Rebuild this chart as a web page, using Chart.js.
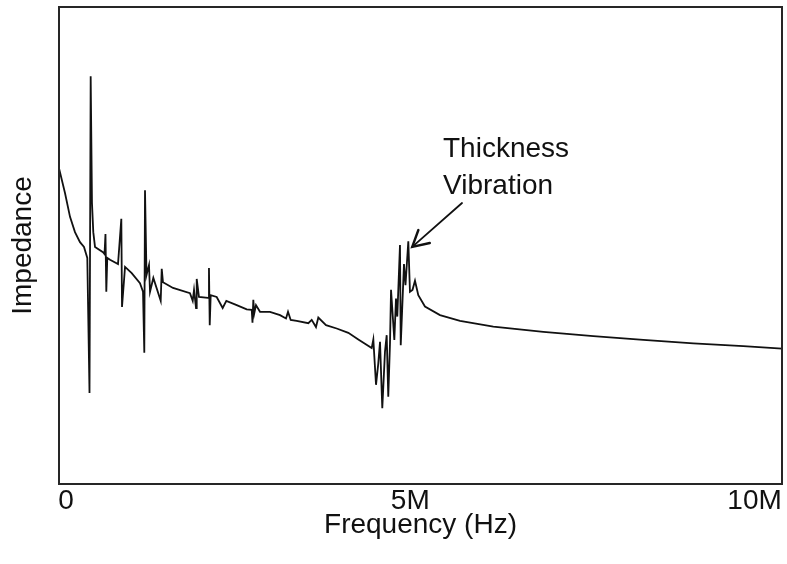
<!DOCTYPE html>
<html>
<head>
<meta charset="utf-8">
<script src="https://cdn.jsdelivr.net/npm/chart.js@4/dist/chart.umd.min.js"></script>
<style>
  html, body { margin: 0; padding: 0; background: #ffffff; }
  #c { display: block; }
</style>
</head>
<body>
<canvas id="c" width="787" height="564"></canvas>
<script>
// Frequency in MHz, impedance in arbitrary units
const freqMHz = [
  0.000, 0.087, 0.160, 0.232, 0.305, 0.363, 0.411, 0.443, 0.460, 0.479,
  0.498, 0.523, 0.639, 0.661, 0.675, 0.687, 0.701, 0.741, 0.857, 0.905,
  0.915, 0.959, 1.056, 1.176, 1.220, 1.239, 1.249, 1.271, 1.307, 1.322,
  1.370, 1.477, 1.492, 1.510, 1.656, 1.902, 1.942, 1.961, 1.990, 2.000,
  2.033, 2.164, 2.178, 2.189, 2.203, 2.290, 2.377, 2.430, 2.581, 2.726,
  2.799, 2.810, 2.822, 2.836, 2.861, 2.919, 3.064, 3.210, 3.297, 3.326,
  3.365, 3.452, 3.621, 3.670, 3.732, 3.766, 3.878, 4.033, 4.202, 4.347,
  4.541, 4.565, 4.604, 4.637, 4.662, 4.695, 4.734, 4.759, 4.782, 4.807,
  4.822, 4.870, 4.894, 4.913, 4.952, 4.963, 5.010, 5.032, 5.073, 5.097,
  5.134, 5.170, 5.218, 5.315, 5.533, 5.824, 6.307, 7.034, 7.760, 8.486,
  9.212, 9.938, 10.500
];
const impedance = [
  66.2, 61.0, 56.0, 52.8, 50.7, 49.7, 47.4, 19.1, 85.5, 58.9,
  52.8, 49.7, 48.6, 48.2, 52.4, 40.3, 47.4, 47.0, 46.1, 55.6,
  37.1, 45.5, 44.2, 42.1, 40.3, 27.5, 61.6, 43.8, 45.9, 40.3,
  43.2, 38.4, 45.1, 42.3, 41.1, 40.0, 38.4, 40.7, 36.9, 43.0,
  39.2, 39.0, 45.3, 33.3, 39.6, 39.2, 36.9, 38.4, 37.5, 36.6,
  36.5, 33.8, 38.6, 35.8, 37.5, 36.1, 36.1, 35.4, 34.7, 36.1,
  34.4, 34.2, 33.7, 34.4, 32.9, 34.9, 33.3, 32.6, 31.7, 30.3,
  28.5, 30.3, 20.8, 25.3, 29.8, 15.9, 27.7, 31.2, 18.3, 29.5,
  40.7, 30.2, 38.9, 35.1, 50.1, 29.1, 46.1, 41.7, 50.9, 40.3,
  40.7, 42.6, 39.6, 37.2, 35.4, 34.2, 33.0, 31.9, 31.0, 30.2,
  29.5, 28.9, 28.4
];

const xTickValues = [0, 5, 10];
const xTickLabels = ['0', '5M', '10M'];

const annotationLines = ['Thickness', 'Vibration'];
const annotationTextAt = { x: 5.577, y: [68.6, 60.8] };
const arrowFrom = { x: 5.853, y: 58.9 };
const arrowTo = { x: 5.130, y: 49.7 };

const FONT = 'Liberation Sans, Arial, Helvetica, sans-serif';
const INK = '#111111';

const framePlugin = {
  id: 'frame',
  afterDatasetsDraw(chart) {
    const { ctx, chartArea: a } = chart;
    ctx.save();
    ctx.strokeStyle = '#262626';
    ctx.lineWidth = 2;
    ctx.strokeRect(a.left, a.top, a.right - a.left, a.bottom - a.top);
    ctx.restore();
  }
};

const annotationPlugin = {
  id: 'note',
  afterDraw(chart) {
    const { ctx } = chart;
    const xs = chart.scales.x, ys = chart.scales.y;
    ctx.save();
    ctx.fillStyle = INK;
    ctx.font = '28px ' + FONT;
    ctx.textAlign = 'left';
    ctx.textBaseline = 'alphabetic';
    annotationLines.forEach((t, i) => {
      ctx.fillText(t, xs.getPixelForValue(annotationTextAt.x), ys.getPixelForValue(annotationTextAt.y[i]));
    });
    const x1 = xs.getPixelForValue(arrowFrom.x), y1 = ys.getPixelForValue(arrowFrom.y);
    const x2 = xs.getPixelForValue(arrowTo.x), y2 = ys.getPixelForValue(arrowTo.y);
    ctx.strokeStyle = INK;
    ctx.lineWidth = 1.8;
    ctx.lineCap = 'round';
    ctx.beginPath();
    ctx.moveTo(x1, y1);
    ctx.lineTo(x2, y2);
    ctx.stroke();
    const ang = Math.atan2(y2 - y1, x2 - x1);
    const len = 18, spread = 0.5;
    ctx.lineWidth = 2.4;
    ctx.beginPath();
    ctx.moveTo(x2 - len * Math.cos(ang - spread), y2 - len * Math.sin(ang - spread));
    ctx.lineTo(x2, y2);
    ctx.lineTo(x2 - len * Math.cos(ang + spread), y2 - len * Math.sin(ang + spread));
    ctx.stroke();
    ctx.restore();
  }
};

new Chart(document.getElementById('c'), {
  type: 'line',
  data: {
    datasets: [{
      data: freqMHz.map((f, i) => ({ x: f, y: impedance[i] })),
      borderColor: INK,
      borderWidth: 1.8,
      pointRadius: 0,
      tension: 0,
      fill: false
    }]
  },
  options: {
    responsive: false,
    animation: false,
    devicePixelRatio: 1,
    layout: { padding: { top: 7, right: 5, left: 0, bottom: 0 } },
    plugins: { legend: { display: false }, tooltip: { enabled: false } },
    scales: {
      x: {
        type: 'linear',
        min: 0,
        max: 10.5,
        afterBuildTicks: s => { s.ticks = xTickValues.map(v => ({ value: v })); },
        afterFit: s => { s.height = 80; },
        grid: { display: false, drawTicks: false, tickLength: 0 },
        border: { display: false },
        ticks: {
          autoSkip: false,
          maxRotation: 0,
          labelOffset: 7,
          padding: 0,
          color: INK,
          font: { family: FONT, size: 28 },
          callback: (v, i) => xTickLabels[i]
        },
        title: {
          display: true,
          text: 'Frequency (Hz)',
          color: INK,
          font: { family: FONT, size: 28 },
          padding: { top: 0, bottom: 22 }
        }
      },
      y: {
        min: 0,
        max: 100,
        afterFit: s => { s.width = 59; },
        grid: { display: false, drawTicks: false, tickLength: 0 },
        border: { display: false },
        ticks: { display: false },
        title: {
          display: true,
          text: 'Impedance',
          color: INK,
          font: { family: FONT, size: 28 },
          padding: { top: 6, bottom: 0 }
        }
      }
    }
  },
  plugins: [framePlugin, annotationPlugin]
});
</script>
</body>
</html>
